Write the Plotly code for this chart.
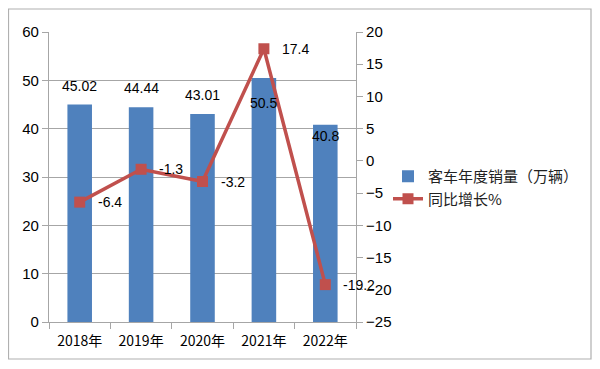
import plotly.graph_objects as go

categories = ["2018年", "2019年", "2020年", "2021年", "2022年"]
sales = [45.02, 44.44, 43.01, 50.5, 40.8]
growth = [-6.4, -1.3, -3.2, 17.4, -19.2]
sales_labels = ["45.02", "44.44", "43.01", "50.5", "40.8"]
growth_labels = ["-6.4", "-1.3", "-3.2", "17.4", "-19.2"]
label_shift = [18, 19, 19, -25, -11]

BLUE = "#4F81BD"
RED = "#C0504D"
GRID = "#A6A6A6"
FONT = "Liberation Sans, Arial, sans-serif"
CJK = "Noto Sans CJK SC, sans-serif"

fig = go.Figure()
fig.add_trace(go.Bar(
    x=categories, y=sales, name="客车年度销量（万辆）",
    marker=dict(color=BLUE, line=dict(width=0)),
    yaxis="y",
))
fig.add_trace(go.Scatter(
    x=categories, y=growth, name="同比增长%",
    mode="lines+markers",
    line=dict(color=RED, width=3.5),
    marker=dict(symbol="square", size=11, color=RED),
    yaxis="y2", cliponaxis=False,
))

for c, v, t, s in zip(categories, sales, sales_labels, label_shift):
    fig.add_annotation(x=c, y=v, yref="y", text=t, showarrow=False,
                       yshift=s, font=dict(family=FONT, size=14, color="#000000"))

for c, v, t in zip(categories, growth, growth_labels):
    fig.add_annotation(x=c, y=v, yref="y2", text=t, showarrow=False,
                       xanchor="left", xshift=16,
                       font=dict(family=FONT, size=14, color="#000000"))

# page has an 8px body margin; build figure in page coords minus 8
OFF = 8
W, H = 600 - OFF, 369 - OFF
L, R, T, B = 49 - OFF, 600 - 356, 32 - OFF, 369 - 322
pw, ph = W - L - R, H - T - B

def px(x):
    return (x - OFF - L) / pw

def py(y):
    return (H - B - (y - OFF)) / ph

fig.add_shape(type="rect", xref="paper", yref="paper",
              x0=px(8.5), x1=px(591), y0=py(359), y1=py(9),
              line=dict(color="#B0B0B0", width=1.2), layer="below")

fig.update_layout(
    width=W, height=H,
    margin=dict(l=L, r=R, t=T, b=B),
    paper_bgcolor="white", plot_bgcolor="white",
    bargap=0.6,
    showlegend=True,
    legend=dict(x=px(388), y=py(160), xanchor="left", yanchor="top",
                font=dict(family=CJK, size=15, color="#222222"),
                bgcolor="rgba(0,0,0,0)", tracegroupgap=0, itemwidth=30),
    xaxis=dict(
        range=[-0.5, len(categories) - 0.5], autorange=False,
        showline=True, linecolor=GRID, linewidth=1.2,
        ticks="outside", tickson="boundaries", ticklen=6, tickcolor=GRID,
        tickfont=dict(family=CJK, size=14, color="#000000"),
        ticklabelstandoff=6,
        showgrid=False,
    ),
    yaxis=dict(
        range=[0, 60], dtick=10,
        showgrid=True, gridcolor=GRID, gridwidth=1.2,
        showline=True, linecolor=GRID, linewidth=1.2,
        ticks="outside", ticklen=6, tickcolor=GRID,
        tickfont=dict(family=FONT, size=15, color="#000000"),
        zeroline=False,
    ),
    yaxis2=dict(
        range=[-25, 20], dtick=5, overlaying="y", side="right",
        showgrid=False, zeroline=False,
        showline=True, linecolor=GRID, linewidth=1.2,
        ticks="outside", ticklen=6, tickcolor=GRID,
        tickfont=dict(family=FONT, size=15, color="#000000"),
    ),
)

fig.write_html("out.html")
